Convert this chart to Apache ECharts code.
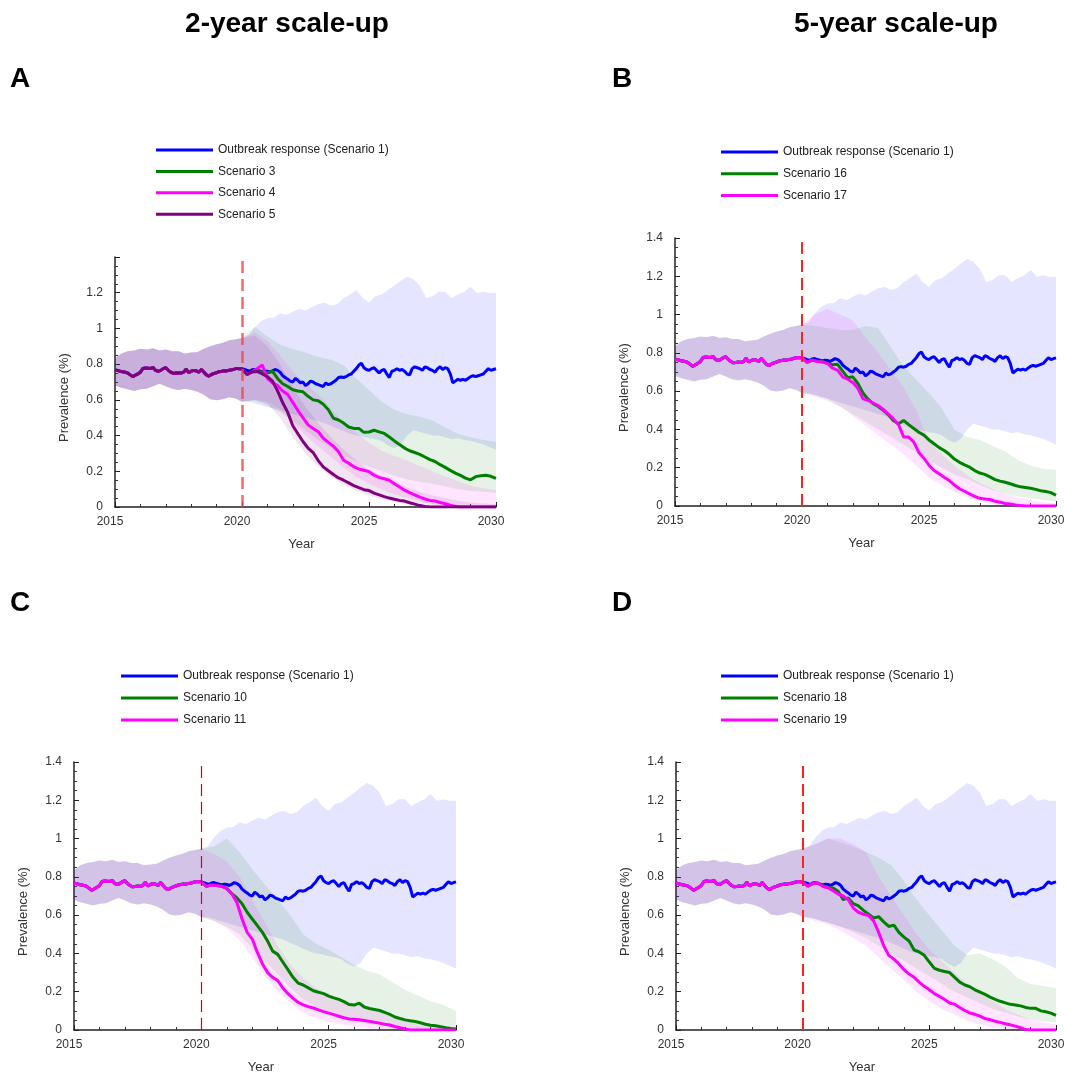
<!DOCTYPE html>
<html><head><meta charset="utf-8">
<script src="https://cdn.jsdelivr.net/npm/echarts@6/dist/echarts.min.js"></script>
<style>html,body{margin:0;padding:0;background:#fff;overflow:hidden}#c{width:1065px;height:1073px}</style>
</head><body><div id="c"></div>
<script>
// ---------- text ----------
const COLUMN_TITLES = ['2-year scale-up', '5-year scale-up'];
const PANEL_LABELS = ['A', 'B', 'C', 'D'];
const X_NAME = 'Year';
const Y_NAME = 'Prevalence (%)';
const INTERVENTION_YEAR = 2020;

// ---------- time grids (years) ----------
function yearGrid(start, step, count) { const a = []; for (let i = 0; i < count; i++) a.push(+(start + i * step).toFixed(2)); return a; }
const HIST_YEARS = yearGrid(2015, 0.1, 51);        // 2015.0 .. 2020.0
const S1_YEARS = yearGrid(2020.1, 0.1, 100);       // 2020.1 .. 2030.0
const SCEN_YEARS = yearGrid(2020.2, 0.2, 50);      // 2020.2 .. 2030.0
const HIST_BAND_YEARS = yearGrid(2015, 0.25, 21);  // 2015.0 .. 2020.0
const S1_BAND_YEARS = yearGrid(2020.25, 0.25, 40); // 2020.25 .. 2030.0
const SCEN_BAND_YEARS = yearGrid(2020.5, 0.5, 20); // 2020.5 .. 2030.0

// ---------- shared history (2015-2020) ----------
const HIST_MEDIAN = [
0.767,0.765,0.760,0.757,0.755,0.750,0.740,0.730,0.738,0.745,
0.755,0.776,0.778,0.777,0.776,0.781,0.765,0.760,0.765,0.775,
0.780,0.765,0.755,0.748,0.750,0.752,0.750,0.755,0.772,0.752,
0.760,0.765,0.762,0.755,0.770,0.755,0.740,0.733,0.742,0.748,
0.752,0.758,0.760,0.763,0.762,0.766,0.768,0.772,0.776,0.774,
0.774];
const HIST_LO = [0.68,0.668,0.659,0.65,0.659,0.662,0.676,0.69,0.676,0.662,0.655,0.662,0.655,0.645,0.628,0.603,0.598,0.603,0.615,0.607,0.59];
const HIST_HI = [0.833,0.86,0.872,0.877,0.886,0.882,0.889,0.877,0.882,0.872,0.872,0.86,0.865,0.868,0.886,0.9,0.912,0.92,0.934,0.94,0.947];

// ---------- Scenario 1 (outbreak response), 2020.1-2030 ----------
const S1_MEDIAN = [
0.770,0.765,0.760,0.768,0.770,0.765,0.762,0.758,0.762,0.760,
0.755,0.762,0.770,0.765,0.755,0.736,0.725,0.716,0.705,0.700,
0.720,0.710,0.695,0.700,0.680,0.690,0.705,0.700,0.690,0.685,
0.680,0.675,0.695,0.685,0.690,0.700,0.710,0.725,0.728,0.725,
0.730,0.740,0.745,0.760,0.775,0.795,0.805,0.780,0.770,0.765,
0.775,0.780,0.765,0.750,0.765,0.770,0.745,0.725,0.760,0.765,
0.775,0.765,0.770,0.760,0.745,0.740,0.775,0.785,0.780,0.775,
0.765,0.785,0.780,0.770,0.765,0.755,0.775,0.785,0.770,0.780,
0.775,0.745,0.695,0.705,0.715,0.710,0.715,0.710,0.720,0.730,
0.735,0.730,0.735,0.740,0.745,0.760,0.775,0.765,0.770,0.774];
const S1_LO = [0.59,0.58,0.57,0.56,0.55,0.54,0.53,0.52,0.51,0.50,0.49,0.48,0.47,0.455,0.44,0.425,0.41,0.40,0.395,0.385,
0.38,0.37,0.345,0.33,0.35,0.40,0.43,0.42,0.41,0.40,0.40,0.39,0.38,0.385,0.375,0.37,0.36,0.35,0.335,0.32];
const S1_HI = [0.96,1.005,1.04,1.058,1.06,1.085,1.076,1.093,1.11,1.10,1.12,1.137,1.145,1.128,1.137,1.17,1.19,1.215,1.17,1.145,
1.18,1.19,1.215,1.24,1.267,1.29,1.276,1.24,1.17,1.18,1.206,1.206,1.17,1.19,1.206,1.233,1.198,1.206,1.198,1.198];

// ---------- Panel A scenarios (2020.2-2030, step 0.2) ----------
const S3_MEDIAN = [0.742,0.757,0.758,0.758,0.752,0.76,0.72,0.69,0.675,0.657,0.65,0.645,0.62,0.60,0.595,0.575,0.545,0.497,0.487,0.47,
0.448,0.44,0.44,0.418,0.42,0.43,0.421,0.412,0.392,0.37,0.35,0.33,0.315,0.305,0.295,0.28,0.265,0.255,0.237,0.222,
0.205,0.19,0.177,0.162,0.152,0.17,0.175,0.178,0.172,0.16];
const S4_MEDIAN = [0.742,0.757,0.775,0.795,0.72,0.695,0.68,0.65,0.63,0.586,0.54,0.50,0.46,0.44,0.422,0.385,0.362,0.34,0.31,0.262,
0.245,0.225,0.213,0.206,0.198,0.178,0.166,0.158,0.15,0.13,0.112,0.094,0.08,0.068,0.055,0.045,0.037,0.034,0.025,0.018,
0.01,0.003,0,0,0,0,0,0,0,0];
const S5_MEDIAN = [0.742,0.757,0.76,0.745,0.73,0.705,0.65,0.585,0.53,0.455,0.41,0.367,0.33,0.305,0.26,0.225,0.203,0.182,0.163,0.15,
0.135,0.12,0.108,0.097,0.092,0.078,0.068,0.058,0.05,0.043,0.037,0.033,0.024,0.016,0.008,0.003,0,0,0,0,
0,0,0,0,0,0,0,0,0,0];
// bands 2020.5-2030 step 0.5
const S3_LO = [0.595,0.57,0.53,0.48,0.43,0.375,0.33,0.29,0.255,0.225,0.2,0.175,0.155,0.14,0.13,0.115,0.10,0.09,0.085,0.08];
const S3_HI = [1.01,0.955,0.91,0.885,0.865,0.84,0.825,0.795,0.72,0.655,0.59,0.545,0.52,0.505,0.485,0.445,0.41,0.39,0.375,0.365];
const S4_LO = [0.6,0.59,0.55,0.47,0.4,0.34,0.28,0.22,0.17,0.13,0.1,0.07,0.05,0.03,0.015,0.005,0,0,0,0];
const S4_HI = [0.98,0.93,0.85,0.76,0.69,0.63,0.555,0.47,0.415,0.36,0.315,0.285,0.26,0.23,0.2,0.17,0.145,0.12,0.105,0.094];
const S5_LO = [0.6,0.58,0.5,0.39,0.3,0.225,0.17,0.125,0.09,0.065,0.045,0.03,0.015,0.005,0,0,0,0,0,0];
const S5_HI = [0.96,0.9,0.8,0.67,0.56,0.47,0.39,0.32,0.26,0.21,0.17,0.14,0.11,0.085,0.065,0.05,0.035,0.025,0.02,0.015];

// ---------- Panel B scenarios ----------
const S16_MEDIAN = [0.75,0.762,0.758,0.755,0.745,0.738,0.74,0.705,0.67,0.675,0.64,0.59,0.558,0.535,0.52,0.50,0.476,0.445,0.43,0.447,
0.425,0.405,0.385,0.37,0.345,0.325,0.305,0.29,0.27,0.245,0.228,0.215,0.203,0.185,0.172,0.165,0.152,0.138,0.13,0.124,
0.116,0.107,0.10,0.097,0.093,0.087,0.08,0.076,0.07,0.056];
const S17_MEDIAN = [0.75,0.762,0.755,0.752,0.745,0.72,0.71,0.675,0.662,0.645,0.615,0.56,0.552,0.538,0.525,0.505,0.48,0.455,0.425,0.361,
0.36,0.335,0.28,0.25,0.213,0.185,0.168,0.15,0.133,0.11,0.09,0.077,0.063,0.05,0.04,0.037,0.034,0.025,0.02,0.013,
0.01,0.005,0.002,0,0,0,0,0,0,0];
const S16_LO = [0.58,0.56,0.52,0.48,0.44,0.40,0.36,0.32,0.28,0.24,0.2,0.165,0.14,0.11,0.085,0.065,0.05,0.04,0.03,0.025];
const S16_HI = [0.94,0.93,0.92,0.92,0.94,0.93,0.83,0.73,0.66,0.59,0.51,0.40,0.36,0.345,0.315,0.285,0.24,0.21,0.195,0.19];
const S17_LO = [0.57,0.55,0.52,0.47,0.42,0.37,0.32,0.27,0.21,0.15,0.11,0.075,0.045,0.025,0.01,0,0,0,0,0];
const S17_HI = [1.0,1.03,1.0,0.97,0.88,0.8,0.71,0.62,0.5,0.34,0.27,0.21,0.16,0.12,0.09,0.065,0.045,0.03,0.02,0.015];

// ---------- Panel C scenarios ----------
const S10_MEDIAN = [0.75,0.758,0.755,0.752,0.74,0.712,0.69,0.66,0.615,0.58,0.545,0.51,0.465,0.412,0.395,0.355,0.315,0.275,0.245,0.235,
0.22,0.205,0.197,0.19,0.177,0.168,0.16,0.148,0.133,0.13,0.14,0.12,0.112,0.107,0.102,0.092,0.082,0.068,0.06,0.053,
0.048,0.044,0.038,0.03,0.025,0.022,0.017,0.012,0.008,0.005];
const S11_MEDIAN = [0.75,0.758,0.755,0.75,0.738,0.71,0.665,0.58,0.51,0.475,0.405,0.345,0.30,0.275,0.258,0.22,0.19,0.165,0.145,0.131,
0.122,0.115,0.105,0.096,0.088,0.08,0.072,0.064,0.058,0.056,0.053,0.05,0.045,0.04,0.036,0.03,0.026,0.018,0.012,0.005,
0,0,0,0,0,0,0,0,0,0];
const S10_LO = [0.57,0.54,0.5,0.43,0.36,0.29,0.22,0.16,0.12,0.09,0.07,0.05,0.035,0.025,0.015,0.008,0.003,0,0,0];
const S10_HI = [0.96,1.0,0.93,0.84,0.76,0.68,0.6,0.5,0.45,0.42,0.38,0.34,0.31,0.29,0.25,0.21,0.18,0.15,0.13,0.1];
const S11_LO = [0.57,0.53,0.47,0.38,0.28,0.2,0.14,0.09,0.06,0.045,0.03,0.02,0.012,0.006,0.002,0,0,0,0,0];
const S11_HI = [0.92,0.88,0.8,0.68,0.56,0.44,0.34,0.27,0.22,0.19,0.16,0.14,0.12,0.1,0.08,0.05,0.03,0.02,0.01,0.005];

// ---------- Panel D scenarios ----------
const S18_MEDIAN = [0.752,0.765,0.768,0.755,0.745,0.742,0.725,0.681,0.69,0.66,0.648,0.625,0.605,0.585,0.592,0.565,0.541,0.548,0.51,0.485,
0.465,0.418,0.408,0.39,0.355,0.322,0.312,0.306,0.30,0.275,0.25,0.235,0.226,0.21,0.198,0.186,0.172,0.16,0.15,0.142,
0.134,0.131,0.126,0.118,0.113,0.113,0.1,0.095,0.088,0.076];
const S19_MEDIAN = [0.752,0.765,0.768,0.75,0.743,0.728,0.71,0.70,0.68,0.637,0.615,0.605,0.598,0.57,0.51,0.44,0.39,0.37,0.345,0.315,
0.292,0.275,0.25,0.228,0.21,0.19,0.175,0.16,0.141,0.135,0.118,0.102,0.089,0.082,0.072,0.06,0.054,0.046,0.04,0.033,
0.027,0.02,0.012,0.002,0,0,0,0,0,0];
const S18_LO = [0.58,0.56,0.54,0.51,0.48,0.44,0.4,0.36,0.32,0.28,0.24,0.2,0.17,0.14,0.11,0.09,0.07,0.055,0.045,0.04];
const S18_HI = [0.97,1.0,0.98,0.96,0.93,0.9,0.86,0.78,0.68,0.6,0.52,0.44,0.39,0.4,0.37,0.33,0.27,0.24,0.23,0.22];
const S19_LO = [0.57,0.55,0.52,0.48,0.44,0.38,0.32,0.26,0.2,0.15,0.11,0.08,0.05,0.03,0.015,0.005,0,0,0,0];
const S19_HI = [0.97,1.0,1.0,0.97,0.93,0.8,0.7,0.6,0.5,0.42,0.36,0.3,0.24,0.19,0.15,0.11,0.08,0.055,0.04,0.03];

// ---------- styling ----------
const FONT = '"Liberation Sans", Arial, Helvetica, sans-serif';
const COL = { blue: '#0000ff', green: '#008000', magenta: '#ff00ff', purple: '#800080' };
const BAND = { blue: 'rgba(0,0,255,0.1)', green: 'rgba(0,128,0,0.1)', magenta: 'rgba(255,0,255,0.1)', purple: 'rgba(128,0,128,0.1)' };

const S1_DEF = { name: 'Outbreak response (Scenario 1)', c: 'blue', years: S1_YEARS, med: S1_MEDIAN, byears: S1_BAND_YEARS, lo: S1_LO, hi: S1_HI };
function scen(name, c, med, lo, hi) { return { name, c, years: SCEN_YEARS, med, byears: SCEN_BAND_YEARS, lo, hi }; }

const PANELS = [
  { grid: { left: 115, top: 257, width: 381, height: 250 }, legend: { left: 156, top: 144, gap: 9.4 }, hideMax: true,
    dash: { color: 'rgba(238,70,70,0.8)', width: 2.5 },
    scen: [S1_DEF, scen('Scenario 3', 'green', S3_MEDIAN, S3_LO, S3_HI), scen('Scenario 4', 'magenta', S4_MEDIAN, S4_LO, S4_HI), scen('Scenario 5', 'purple', S5_MEDIAN, S5_LO, S5_HI)] },
  { grid: { left: 675, top: 238, width: 381, height: 268 }, legend: { left: 721, top: 146, gap: 9.7 },
    dash: { color: '#ff2020', width: 2 },
    scen: [S1_DEF, scen('Scenario 16', 'green', S16_MEDIAN, S16_LO, S16_HI), scen('Scenario 17', 'magenta', S17_MEDIAN, S17_LO, S17_HI)] },
  { grid: { left: 74, top: 762, width: 382, height: 268 }, legend: { left: 121, top: 670, gap: 10 },
    dash: { color: '#dd0000', width: 1.2 },
    scen: [S1_DEF, scen('Scenario 10', 'green', S10_MEDIAN, S10_LO, S10_HI), scen('Scenario 11', 'magenta', S11_MEDIAN, S11_LO, S11_HI)] },
  { grid: { left: 676, top: 762, width: 380, height: 268 }, legend: { left: 721, top: 670, gap: 10 },
    dash: { color: '#ff2020', width: 2 },
    scen: [S1_DEF, scen('Scenario 18', 'green', S18_MEDIAN, S18_LO, S18_HI), scen('Scenario 19', 'magenta', S19_MEDIAN, S19_LO, S19_HI)] },
];

function bandSeries(years, lo, hi, fill, gi) {
  const data = years.map((y, i) => [y, lo[i], hi[i]]);
  return {
    type: 'custom', xAxisIndex: gi, yAxisIndex: gi, silent: true, z: 1,
    encode: { x: 0, y: [1, 2] }, data,
    renderItem(params, api) {
      if (params.dataIndex !== 0) return null;
      const pts = [];
      for (let i = 0; i < data.length; i++) pts.push(api.coord([data[i][0], data[i][2]]));
      for (let i = data.length - 1; i >= 0; i--) pts.push(api.coord([data[i][0], data[i][1]]));
      return { type: 'polygon', shape: { points: pts }, style: { fill } };
    }
  };
}

const grids = [], xAxes = [], yAxes = [], legends = [], series = [];
PANELS.forEach((p, gi) => {
  grids.push(Object.assign({ containLabel: false, outerBoundsMode: 'none' }, p.grid));
  xAxes.push({
    type: 'value', gridIndex: gi, min: 2015, max: 2030, interval: 5,
    axisLine: { lineStyle: { color: '#222', width: 1.5 } },
    axisTick: { show: true, inside: true, length: 5, lineStyle: { color: '#222' } },
    minorTick: { show: true, splitNumber: 5, length: 3, lineStyle: { color: '#333' } },
    splitLine: { show: false },
    axisLabel: { color: '#333', fontSize: 12, margin: 9, fontFamily: FONT, formatter: v => String(v), padding: [0, 10, 0, 0] },
    name: X_NAME, nameLocation: 'middle', nameGap: 31,
    nameTextStyle: { fontSize: 13, color: '#333', fontFamily: FONT, padding: [0, 8, 0, 0] }
  });
  yAxes.push({
    type: 'value', gridIndex: gi, min: 0, max: 1.4, interval: 0.2,
    axisLine: { show: true, lineStyle: { color: '#222', width: 1.5 } },
    axisTick: { show: true, inside: true, length: 5, lineStyle: { color: '#222' } },
    minorTick: { show: true, splitNumber: 4, length: 3, lineStyle: { color: '#333' } },
    splitLine: { show: false },
    axisLabel: { color: '#333', fontSize: 12, margin: 12, fontFamily: FONT, showMaxLabel: !p.hideMax, padding: [0, 0, 6, 0] },
    name: Y_NAME, nameLocation: 'middle', nameGap: 44, nameRotate: 90,
    nameTextStyle: { fontSize: 13, color: '#333', fontFamily: FONT, padding: [0, 31, 0, 0] }
  });
  legends.push({
    orient: 'vertical', left: p.legend.left, top: p.legend.top, icon: 'rect', padding: 0,
    itemWidth: 57, itemHeight: 3, itemGap: p.legend.gap, selectedMode: false,
    textStyle: { fontSize: 12, color: '#222', fontFamily: FONT },
    data: p.scen.map(s => s.name)
  });
  p.scen.forEach(s => {
    series.push(bandSeries(HIST_BAND_YEARS.concat(s.byears), HIST_LO.concat(s.lo), HIST_HI.concat(s.hi), BAND[s.c], gi));
  });
  p.scen.forEach((s, k) => {
    const yrs = HIST_YEARS.concat(s.years), vals = HIST_MEDIAN.concat(s.med);
    const ser = {
      type: 'line', name: s.name, xAxisIndex: gi, yAxisIndex: gi, z: 3,
      data: yrs.map((y, i) => [y, vals[i]]), showSymbol: false, symbol: 'none',
      color: COL[s.c], itemStyle: { color: COL[s.c] }, lineStyle: { color: COL[s.c], width: 3 }
    };
    if (k === p.scen.length - 1) {
      ser.markLine = { silent: true, symbol: ['none', 'none'], label: { show: false }, animation: false,
        lineStyle: { color: p.dash.color, width: p.dash.width, type: [12, 6] }, data: [{ xAxis: INTERVENTION_YEAR }] };
    }
    series.push(ser);
  });
});

const titleStyle = { fontSize: 28, fontWeight: 'bold', color: '#000', fontFamily: FONT };
const titles = [
  { text: COLUMN_TITLES[0], left: 287, top: 10, textAlign: 'center', padding: 0, textStyle: titleStyle },
  { text: COLUMN_TITLES[1], left: 896, top: 10, textAlign: 'center', padding: 0, textStyle: titleStyle },
  { text: PANEL_LABELS[0], left: 10, top: 65, padding: 0, textStyle: titleStyle },
  { text: PANEL_LABELS[1], left: 612, top: 65, padding: 0, textStyle: titleStyle },
  { text: PANEL_LABELS[2], left: 10, top: 589, padding: 0, textStyle: titleStyle },
  { text: PANEL_LABELS[3], left: 612, top: 589, padding: 0, textStyle: titleStyle },
];

const chart = echarts.init(document.getElementById('c'), null, { renderer: 'canvas' });
chart.setOption({
  animation: false, backgroundColor: '#fff',
  title: titles, grid: grids, xAxis: xAxes, yAxis: yAxes, legend: legends, series
});
</script></body></html>
